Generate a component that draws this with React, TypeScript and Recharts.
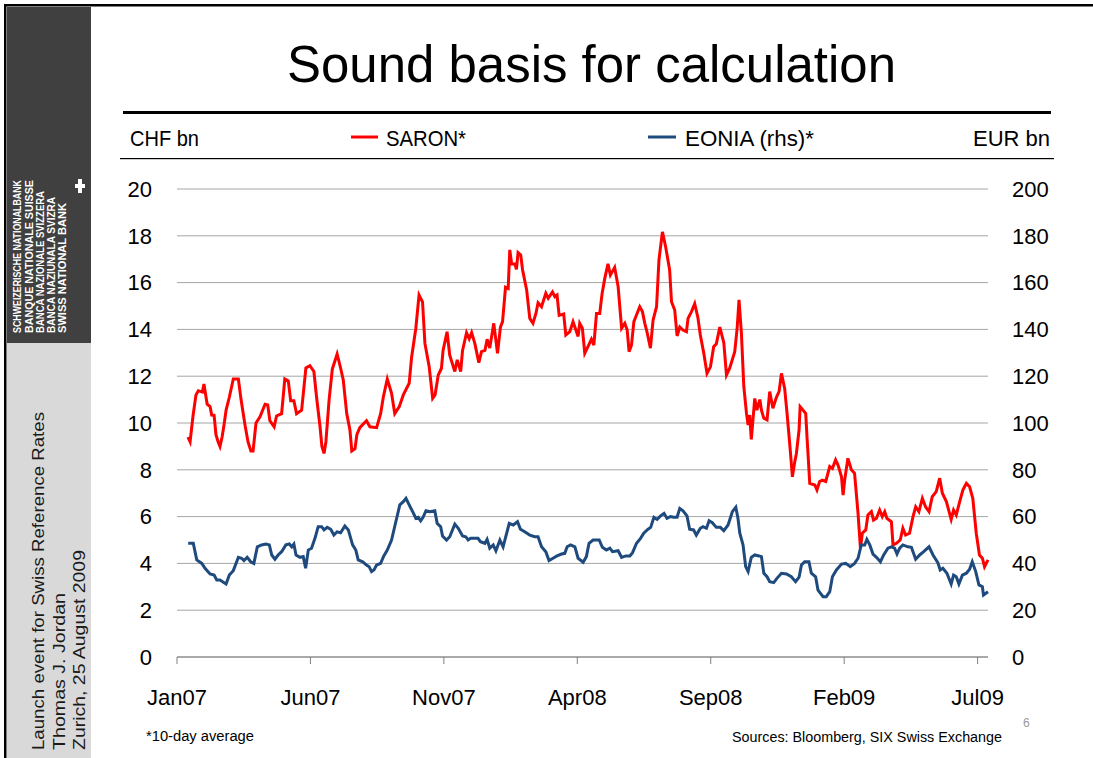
import React from 'react';
import { LineChart, Line, XAxis, YAxis, CartesianGrid } from 'recharts';

// x values are months since Jan 2007
const monthTicks = [0, 5, 10, 15, 20, 25, 30];
const monthLabels = ['Jan07', 'Jun07', 'Nov07', 'Apr08', 'Sep08', 'Feb09', 'Jul09'];
const chfTicks = [0, 2, 4, 6, 8, 10, 12, 14, 16, 18, 20];
const eurTicks = [0, 20, 40, 60, 80, 100, 120, 140, 160, 180, 200];

const seriesNames = ['SARON*', 'EONIA (rhs)*'];
const seriesColors = ['#ff0000', '#1f4a7d'];

// SARON, CHF bn (10-day average)
const saronT = [
  0.41, 0.49, 0.6, 0.71, 0.8, 0.95, 1.01, 1.13, 1.24, 1.3, 1.39, 1.46, 1.54, 1.61, 1.69, 1.76, 1.84, 1.96,
  2.11, 2.3, 2.4, 2.55, 2.66, 2.77, 2.85, 2.96, 3.11, 3.3, 3.4, 3.48, 3.64, 3.73, 3.92, 4.04, 4.17, 4.26,
  4.38, 4.48, 4.67, 4.83, 4.98, 5.13, 5.23, 5.36, 5.43, 5.51, 5.58, 5.7, 5.82, 6.0, 6.13, 6.23, 6.36, 6.48,
  6.55, 6.67, 6.74, 6.85, 7.1, 7.23, 7.48, 7.63, 7.73, 7.88, 8.04, 8.16, 8.33, 8.48, 8.7, 8.79, 8.95, 9.07,
  9.2, 9.29, 9.45, 9.58, 9.67, 9.79, 9.91, 9.97, 10.12, 10.22, 10.41, 10.5, 10.63, 10.7, 10.85, 10.95, 11.04,
  11.16, 11.31, 11.41, 11.54, 11.62, 11.72, 11.87, 12.01, 12.12, 12.2, 12.31, 12.41, 12.47, 12.54, 12.66,
  12.72, 12.78, 12.88, 12.95, 13.1, 13.22, 13.34, 13.45, 13.53, 13.66, 13.82, 13.91, 14.07, 14.16, 14.24,
  14.32, 14.49, 14.57, 14.72, 14.84, 14.97, 15.03, 15.09, 15.19, 15.28, 15.4, 15.53, 15.62, 15.72, 15.84,
  15.93, 16.03, 16.15, 16.24, 16.4, 16.53, 16.66, 16.78, 16.87, 16.94, 17.03, 17.12, 17.24, 17.34, 17.44,
  17.53, 17.61, 17.74, 17.84, 17.97, 18.06, 18.19, 18.31, 18.46, 18.53, 18.65, 18.74, 18.84, 18.96, 19.09,
  19.15, 19.28, 19.4, 19.52, 19.61, 19.74, 19.86, 19.99, 20.11, 20.21, 20.34, 20.49, 20.59, 20.71, 20.9,
  20.99, 21.06, 21.15, 21.24, 21.34, 21.4, 21.46, 21.52, 21.65, 21.73, 21.84, 21.9, 21.99, 22.11, 22.21,
  22.33, 22.46, 22.56, 22.65, 22.77, 22.86, 22.93, 22.99, 23.06, 23.15, 23.21, 23.31, 23.35, 23.46, 23.56,
  23.61, 23.65, 23.71, 23.9, 23.98, 24.08, 24.18, 24.31, 24.46, 24.56, 24.68, 24.77, 24.9, 24.96, 25.02,
  25.14, 25.27, 25.39, 25.52, 25.61, 25.68, 25.81, 25.89, 26.02, 26.1, 26.21, 26.33, 26.43, 26.52, 26.6,
  26.77, 26.83, 26.96, 27.1, 27.2, 27.3, 27.45, 27.58, 27.68, 27.8, 27.93, 28.05, 28.18, 28.3, 28.45, 28.58,
  28.68, 28.83, 29.01, 29.1, 29.2, 29.33, 29.45, 29.58, 29.7, 29.82, 29.95, 30.07, 30.18, 30.26, 30.39,
];
const saronV = [
  9.4, 9.2, 10.3, 11.2, 11.38, 11.32, 11.67, 10.8, 10.7, 10.34, 10.33, 9.5, 9.2, 9.0, 9.4, 9.9, 10.55, 11.1,
  11.88, 11.88, 11.0, 9.9, 9.2, 8.8, 8.8, 10.0, 10.26, 10.8, 10.77, 10.1, 9.84, 10.3, 10.4, 11.88, 11.8, 10.95,
  10.95, 10.4, 10.55, 12.35, 12.45, 12.2, 11.1, 9.84, 9.0, 8.7, 9.2, 11.0, 12.3, 12.95, 12.35, 11.84, 10.4, 9.7,
  8.8, 8.9, 9.5, 9.8, 10.1, 9.84, 9.8, 10.4, 11.1, 11.88, 11.27, 10.4, 10.7, 11.2, 11.7, 12.8, 14.05, 15.47,
  15.18, 13.4, 12.4, 11.05, 11.2, 12.05, 12.34, 13.1, 13.9, 12.9, 12.2, 12.7, 12.2, 13.1, 13.86, 13.6, 13.86,
  13.4, 12.58, 13.05, 13.1, 13.58, 13.2, 14.26, 12.98, 14.1, 14.33, 15.8, 15.75, 17.4, 16.8, 16.8,
  16.57, 17.28, 17.18, 16.54, 15.7, 14.47, 14.26, 14.68, 15.14, 14.97, 15.54, 15.33, 15.6, 15.4, 15.47,
  14.6, 14.66, 13.76, 13.9, 14.33, 13.9, 13.7, 14.26, 14.05, 12.98, 13.26, 13.58, 13.33, 14.68, 14.68,
  15.54, 16.18, 16.8, 16.32, 16.65, 15.83, 14.05, 14.26, 13.97, 13.05, 13.33, 14.33, 14.68, 14.97, 14.76,
  14.26, 13.9, 13.2, 14.4, 14.97, 16.97, 18.17, 17.53, 16.54, 15.18, 14.83, 13.72, 14.1, 13.97, 13.9,
  14.47, 14.76, 15.1, 14.5, 13.76, 12.98, 12.12, 12.4, 13.26, 13.38, 14.1, 13.43, 12.05, 12.34, 13.05,
  14.05, 15.26, 13.83, 11.55, 10.41, 9.91, 10.34, 9.3, 11.05, 10.55, 11.0, 10.55, 10.2, 10.13, 11.34,
  10.63, 11.1, 11.34, 12.12, 11.48, 10.41, 9.5, 8.7, 7.7, 8.35, 8.7, 9.7, 10.7, 10.55, 10.4,
  9.35, 8.6, 7.42, 7.35, 7.14, 7.5, 7.56, 7.5, 8.14, 8.06, 8.42, 8.2, 7.7, 6.92, 7.56,
  8.49, 8.0, 7.85, 6.14, 4.65, 5.29, 5.43, 6.07, 6.21, 5.85, 5.93, 6.28, 6.0, 6.21, 5.93,
  5.78, 4.79, 4.86, 5.0, 5.5, 5.21, 5.29, 6.0, 6.42, 6.21, 6.78, 6.42, 6.21, 6.85, 7.07, 7.64,
  7.0, 6.64, 5.88, 6.28, 6.07, 6.64, 7.14, 7.42, 7.28, 6.78, 5.29, 4.36, 4.22, 3.86, 4.15,
];

// EONIA, EUR bn (10-day average, right axis)
const eoniaT = [
  0.42, 0.61, 0.74, 0.93, 1.05, 1.24, 1.39, 1.49, 1.61, 1.71, 1.84, 1.96, 2.11, 2.3, 2.42, 2.51, 2.63, 2.76,
  2.88, 3.01, 3.17, 3.33, 3.46, 3.55, 3.67, 3.79, 3.92, 4.08, 4.21, 4.3, 4.38, 4.46, 4.61, 4.73, 4.82, 4.92,
  5.04, 5.17, 5.29, 5.42, 5.51, 5.63, 5.76, 5.88, 6.0, 6.13, 6.29, 6.42, 6.58, 6.7, 6.79, 6.96, 7.1, 7.2,
  7.29, 7.38, 7.48, 7.63, 7.75, 7.88, 8.04, 8.2, 8.35, 8.48, 8.58, 8.7, 8.83, 8.95, 9.04, 9.13, 9.22, 9.33,
  9.48, 9.66, 9.75, 9.88, 9.95, 10.1, 10.22, 10.41, 10.54, 10.7, 10.82, 10.91, 11.0, 11.12, 11.28, 11.37,
  11.54, 11.62, 11.72, 11.85, 11.95, 12.1, 12.22, 12.32, 12.45, 12.6, 12.76, 12.87, 13.03, 13.22, 13.41,
  13.53, 13.66, 13.82, 13.94, 14.09, 14.24, 14.41, 14.53, 14.62, 14.75, 14.91, 15.03, 15.22, 15.34, 15.44,
  15.59, 15.82, 15.94, 16.09, 16.22, 16.32, 16.53, 16.66, 16.82, 16.97, 17.07, 17.22, 17.37, 17.49, 17.65,
  17.75, 17.87, 17.99, 18.12, 18.25, 18.36, 18.49, 18.61, 18.74, 18.84, 18.96, 19.11, 19.21, 19.36, 19.46,
  19.61, 19.71, 19.84, 19.94, 20.06, 20.21, 20.36, 20.49, 20.65, 20.81, 20.94, 21.02, 21.09, 21.21, 21.31,
  21.4, 21.52, 21.65, 21.81, 21.9, 21.99, 22.11, 22.21, 22.36, 22.48, 22.65, 22.84, 23.02, 23.18, 23.31,
  23.4, 23.52, 23.68, 23.77, 23.93, 24.02, 24.21, 24.33, 24.46, 24.56, 24.71, 24.9, 25.06, 25.23, 25.39,
  25.52, 25.64, 25.77, 25.85, 25.96, 26.08, 26.21, 26.36, 26.48, 26.64, 26.77, 26.89, 26.98, 27.08, 27.2,
  27.39, 27.52, 27.68, 27.83, 27.98, 28.18, 28.33, 28.51, 28.6, 28.7, 28.85, 29.01, 29.1, 29.2, 29.3,
  29.43, 29.58, 29.7, 29.8, 29.93, 30.05, 30.18, 30.22, 30.39,
];
const eoniaV = [
  48.6, 48.6, 41.5, 40.0, 37.9, 35.5, 35.0, 32.9, 32.9, 32.2, 31.2, 35.0, 36.9, 42.6, 42.2, 41.2, 42.6, 40.7,
  40.0, 47.1, 47.9, 48.3, 47.9, 43.6, 41.8, 43.6, 45.0, 47.9, 48.3, 47.1, 48.3, 43.6, 42.6, 42.9, 37.9, 45.7,
  46.5, 50.7, 55.7, 55.7, 54.3, 55.4, 54.6, 52.1, 53.5, 53.1, 56.0, 54.3, 47.9, 45.7, 41.5, 40.7, 39.3, 38.6,
  36.5, 37.2, 39.3, 40.0, 43.2, 45.7, 50.0, 57.8, 65.0, 66.4, 67.8, 65.0, 62.1, 59.3, 59.7, 58.2, 59.7, 62.5,
  62.1, 62.5, 57.1, 55.7, 51.7, 50.0, 51.4, 56.8, 55.0, 51.7, 51.4, 50.0, 50.7, 50.7, 50.7, 49.3,
  48.6, 50.3, 46.5, 47.9, 45.4, 50.0, 47.1, 51.4, 57.1, 56.4, 57.8, 54.6, 53.5, 52.1, 51.4,
  51.4, 47.1, 45.0, 41.2, 42.2, 43.2, 44.0, 44.3, 47.1, 47.9, 47.1, 42.2, 40.5, 42.9, 48.6,
  50.0, 50.0, 46.9, 45.7, 46.5, 45.0, 45.4, 42.6, 43.2, 43.2, 44.6, 48.6, 50.7, 52.9, 54.6,
  55.4, 59.7, 58.8, 60.3, 61.4, 59.3, 60.0, 59.7, 59.7, 63.5, 62.5, 60.3, 54.6, 54.3, 52.1,
  55.0, 55.7, 55.0, 58.2, 57.4, 55.4, 55.4, 54.0, 56.4, 62.1, 64.0, 59.3, 52.9, 47.9, 38.6,
  36.5, 42.6, 43.6, 43.2, 42.9, 35.8, 34.3, 32.2, 31.8, 33.6, 35.8, 35.5, 34.3, 32.2, 34.1,
  39.3, 40.7, 40.7, 35.8, 34.3, 28.6, 25.8, 25.8, 27.9, 34.3, 37.2, 39.7, 40.0, 38.6, 40.0,
  42.2, 47.9, 47.9, 50.3, 47.9, 44.0, 42.6, 40.7, 43.6, 46.5, 47.1, 46.5, 44.0, 46.5, 47.9,
  47.1, 46.9, 41.8, 43.6, 45.0, 47.1, 43.6, 40.3, 37.2, 37.9, 35.8, 31.2, 35.0, 34.3, 31.2,
  35.0, 35.8, 37.5, 40.7, 36.5, 30.8, 30.0, 26.5, 27.9,
];

const logoLines = [
  'SCHWEIZERISCHE NATIONALBANK',
  'BANQUE NATIONALE SUISSE',
  'BANCA NAZIONALE SVIZZERA',
  'BANCA NAZIUNALA SVIZRA',
  'SWISS NATIONAL BANK',
];
const sideLines = ['Launch event for Swiss Reference Rates', 'Thomas J. Jordan', 'Zurich, 25 August 2009'];

const FONT = '"Liberation Sans", Arial, sans-serif';

const saronData = saronT.map((t, i) => ({ t, v: saronV[i] }));
const eoniaData = eoniaT.map((t, i) => ({ t, v: eoniaV[i] }));

const Decor: React.FC = () => (
  <svg
    width={1093}
    height={758}
    style={{ position: 'absolute', left: 0, top: 0, pointerEvents: 'none' }}
    fontFamily={FONT}
  >
    {/* frame */}
    <rect x={4} y={4} width={1100} height={2.5} fill="#000" />
    <rect x={4} y={4} width={2.5} height={760} fill="#000" />
    {/* side band */}
    <rect x={7} y={7} width={84} height={336} fill="#404040" />
    <rect x={7} y={343} width={84} height={420} fill="#d9d9d9" />
    {logoLines.map((s, i) => (
      <text
        key={s}
        transform={`translate(${[21, 33, 44, 55, 66][i]},333) rotate(-90)`}
        fontSize={11}
        fontWeight="bold"
        fill="#fff"
        textLength={[153, 153, 142, 136, 130][i]}
        lengthAdjust="spacingAndGlyphs"
      >
        {s}
      </text>
    ))}
    <rect x={78} y={179} width={4} height={14} fill="#fff" />
    <rect x={75} y={184} width={10} height={4} fill="#fff" />
    {sideLines.map((s, i) => (
      <text
        key={s}
        transform={`translate(${[43.5, 65, 85][i]},750) rotate(-90)`}
        fontSize={17}
        fill="#1a1a1a"
        textLength={[338, 157, 200][i]}
        lengthAdjust="spacingAndGlyphs"
      >
        {s}
      </text>
    ))}

    {/* title */}
    <text x={287} y={82} fontSize={52} fill="#000" textLength={609} lengthAdjust="spacingAndGlyphs">
      Sound basis for calculation
    </text>
    <rect x={123} y={111} width={928} height={3} fill="#000" />
    <rect x={120} y={158} width={934} height={1.2} fill="#000" />

    {/* header row */}
    <text x={130} y={146} fontSize={22} fill="#000" textLength={69} lengthAdjust="spacingAndGlyphs">
      CHF bn
    </text>
    <text x={1050} y={146} fontSize={22} fill="#000" textAnchor="end">
      EUR bn
    </text>
    {seriesNames.map((s, i) => (
      <g key={s}>
        <line
          x1={[351, 648][i]}
          x2={[378, 676][i]}
          y1={137}
          y2={137}
          stroke={seriesColors[i]}
          strokeWidth={3}
        />
        <text
          x={[386, 685][i]}
          y={146}
          fontSize={22}
          fill="#000"
          textLength={[80, 129][i]}
          lengthAdjust="spacingAndGlyphs"
        >
          {s}
        </text>
      </g>
    ))}

    {/* notes */}
    <text x={146} y={741} fontSize={14} fill="#000" textLength={108} lengthAdjust="spacingAndGlyphs">
      *10-day average
    </text>
    <text x={732} y={742} fontSize={14} fill="#000" textLength={270} lengthAdjust="spacingAndGlyphs">
      Sources: Bloomberg, SIX Swiss Exchange
    </text>
    <text x={1023} y={727} fontSize={12} fill="#999">
      6
    </text>
  </svg>
);

export default function App() {
  return (
    <div style={{ position: 'absolute', left: 0, top: 0, width: 1093, height: 758, background: '#fff' }}>
      <LineChart width={1093} height={758} margin={{ top: 189, right: 45, bottom: 51, left: 137 }}>
        <CartesianGrid yAxisId="left" horizontal vertical={false} stroke="#a6a6a6" />
        <XAxis
          dataKey="t"
          type="number"
          domain={[0, 30.37]}
          ticks={monthTicks}
          interval={0}
          height={50}
          tickFormatter={(v: number) => monthLabels[monthTicks.indexOf(v)]}
          axisLine={{ stroke: '#808080' }}
          tickLine={{ stroke: '#808080' }}
          tickSize={7}
          tickMargin={25}
          tick={{ fontSize: 22, fill: '#000', fontFamily: FONT }}
        />
        <YAxis
          yAxisId="left"
          domain={[0, 20]}
          ticks={chfTicks}
          interval={0}
          width={40}
          axisLine={false}
          tickLine={false}
          tickSize={0}
          tickMargin={25}
          tick={{ fontSize: 22, fill: '#000', fontFamily: FONT }}
        />
        <YAxis
          yAxisId="right"
          orientation="right"
          domain={[0, 200]}
          ticks={eurTicks}
          interval={0}
          width={60}
          axisLine={false}
          tickLine={false}
          tickSize={0}
          tickMargin={24}
          tick={{ fontSize: 22, fill: '#000', fontFamily: FONT, textAnchor: 'start' }}
        />
        <Line
          yAxisId="left"
          data={saronData}
          dataKey="v"
          name={seriesNames[0]}
          type="linear"
          stroke={seriesColors[0]}
          strokeWidth={3}
          dot={false}
          isAnimationActive={false}
        />
        <Line
          yAxisId="right"
          data={eoniaData}
          dataKey="v"
          name={seriesNames[1]}
          type="linear"
          stroke={seriesColors[1]}
          strokeWidth={3}
          dot={false}
          isAnimationActive={false}
        />
      </LineChart>
      <Decor />
    </div>
  );
}
